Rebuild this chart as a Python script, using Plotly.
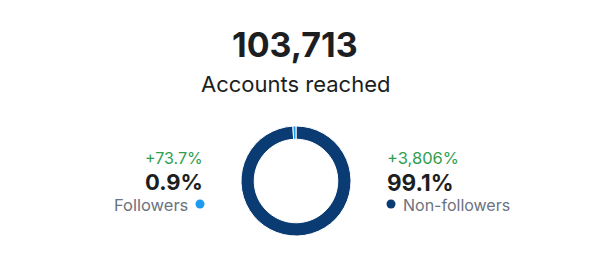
import plotly.graph_objects as go

W, H = 590, 270

total_reached = "103,713"
total_label = "Accounts reached"
segments = ["Followers", "Non-followers"]
shares = [0.9, 99.1]
changes = ["+73.7%", "+3,806%"]
seg_colors = ["#1d9bf0", "#0b3b73"]

DARK = "#1c1e21"
GRAY = "#6b7280"
GREEN = "#2f9e4f"
FONT = "Inter, Roboto, Liberation Sans, Arial, sans-serif"

def px(x):
    return x / W

def py(y):
    return 1 - y / H

fig = go.Figure()
cx, cy, r = 296, 181, 55
# clockwise from 12 o'clock, non-followers first so the followers sliver ends at the top
fig.add_trace(go.Pie(
    labels=segments[::-1],
    values=shares[::-1],
    hole=0.76,
    sort=False,
    direction="clockwise",
    rotation=0,
    marker=dict(colors=seg_colors[::-1], line=dict(color="white", width=1)),
    textinfo="none",
    hoverinfo="label+percent",
    showlegend=False,
    domain=dict(x=[px(cx - r), px(cx + r)], y=[py(cy + r), py(cy - r)]),
))

ann = []
def add(text, x, y, size, color, xanchor="center", bold=False):
    if bold:
        text = f"<b>{text}</b>"
    ann.append(dict(text=text, x=px(x), y=py(y), xref="paper", yref="paper",
                    xanchor=xanchor, yanchor="middle", showarrow=False,
                    font=dict(size=size, color=color, family=FONT)))

add(total_reached, 295, 45, 34, DARK, bold=True)
add(total_label, 295, 84, 22, DARK)

# left (followers)
add(changes[0], 205, 158, 16, GREEN, xanchor="right")
add(f"{shares[0]}%", 205, 182, 22, DARK, xanchor="right", bold=True)
add(segments[0], 190, 205, 16.5, GRAY, xanchor="right")
# right (non-followers)
add(changes[1], 385, 158, 16.5, GREEN, xanchor="left")
add(f"{shares[1]}%", 385, 182, 22.5, DARK, xanchor="left", bold=True)
add(segments[1], 401, 205, 16, GRAY, xanchor="left")

fig.update_layout(
    width=W, height=H,
    margin=dict(l=0, r=0, t=0, b=0),
    paper_bgcolor="white", plot_bgcolor="white",
    annotations=ann,
    xaxis=dict(visible=False, range=[0, W]),
    yaxis=dict(visible=False, range=[H, 0]),
)

# legend dots, positioned in pixel data coords
fig.add_trace(go.Scatter(
    x=[200, 391], y=[204, 204], mode="markers",
    marker=dict(size=9, color=seg_colors),
    hoverinfo="skip", showlegend=False,
))

fig.write_html("out.html")
